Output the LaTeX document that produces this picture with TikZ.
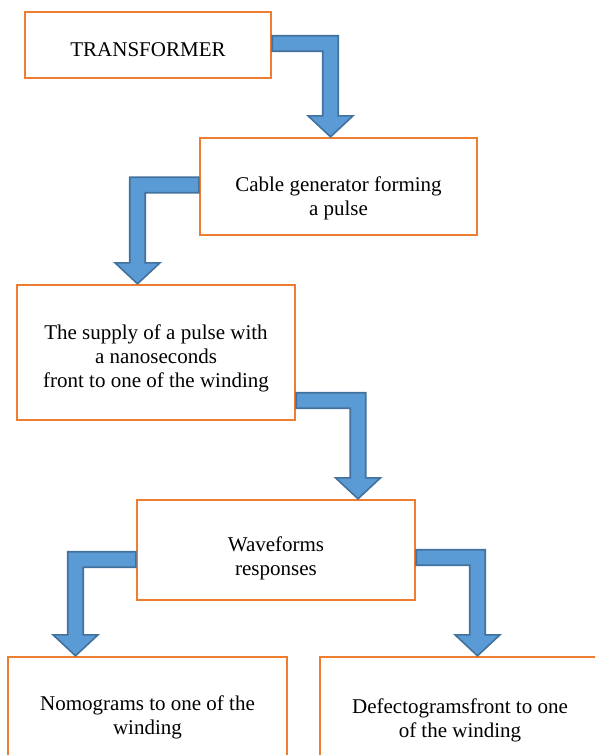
\documentclass[tikz,border=0pt]{standalone}
\usepackage{fontspec}
\setmainfont{Liberation Serif}
\usetikzlibrary{calc}
\definecolor{boxorange}{HTML}{ED7D31}
\definecolor{arrowfill}{HTML}{5B9BD5}
\definecolor{arrowline}{HTML}{41719C}

% half bar width, half head width, head length of the bent block arrows
\def\barhalf{7.75pt}
\def\headhalf{22.5pt}
\def\headlen{21pt}
% #1 start on a box side, #2 tip, #3 = 1 turns right, -1 turns left
\newcommand{\bentarrow}[3]{%
  \filldraw[blockarr] let \p1=#1, \p2=#2 in
    (\x1,{\y1+\barhalf}) -- ({\x2+(#3)*\barhalf},{\y1+\barhalf})
    -- ({\x2+(#3)*\barhalf},{\y2+\headlen}) -- ({\x2+(#3)*\headhalf},{\y2+\headlen})
    -- (\x2,\y2) -- ({\x2-(#3)*\headhalf},{\y2+\headlen})
    -- ({\x2-(#3)*\barhalf},{\y2+\headlen}) -- ({\x2-(#3)*\barhalf},{\y1-\barhalf})
    -- (\x1,{\y1-\barhalf}) -- cycle;}

\begin{document}
\begin{tikzpicture}[
    x=1pt,y=-1pt,
    font=\fontsize{21}{24}\selectfont,
    box/.style={draw=boxorange,line width=2.4pt,fill=white,inner sep=0pt},
    lbl/.style={align=center,inner sep=0pt},
    blockarr/.style={fill=arrowfill,draw=arrowline,line width=1.6pt,line join=miter},
  ]
    \useasboundingbox (0,0) rectangle (595,755);
    \clip (0,0) rectangle (595,755);

    \node[box,minimum width=246pt,minimum height=66pt,
      label={[lbl,yshift=-5pt]center:TRANSFORMER}] (transformer) at (148,45) {};
    \node[box,minimum width=277pt,minimum height=97pt,
      label={[lbl,yshift=-12pt]center:Cable generator forming\\a pulse}] (cable) at (338.5,186.5) {};
    \node[box,minimum width=278pt,minimum height=135pt,
      label={[lbl,yshift=-6pt]center:The supply of a pulse with\\a nanoseconds\\front to one of the winding}] (supply) at (156,352.5) {};
    \node[box,minimum width=278pt,minimum height=100pt,
      label={[lbl,yshift=-8pt]center:Waveforms\\responses}] (wave) at (276,550) {};
    \node[box,minimum width=279pt,minimum height=120pt,
      label={[lbl]center:Nomograms to one of the\\winding}] (nomo) at (147.5,717) {};
    \node[box,minimum width=280pt,minimum height=126pt,
      label={[lbl]center:Defectogramsfront to one\\of the winding}] (defect) at (460,720) {};

    \bentarrow{([yshift=1.5pt]transformer.east)}{([xshift=-8pt]cable.north)}{1}
    \bentarrow{([yshift=1.5pt]cable.west)}{([xshift=-18.5pt]supply.north)}{-1}
    \bentarrow{([yshift=-48pt]supply.east)}{([xshift=82pt]wave.north)}{1}
    \bentarrow{([yshift=-9.5pt]wave.west)}{([xshift=-72pt]nomo.north)}{-1}
    \bentarrow{([yshift=-7.5pt]wave.east)}{([xshift=17.5pt]defect.north)}{1}
\end{tikzpicture}
\end{document}
